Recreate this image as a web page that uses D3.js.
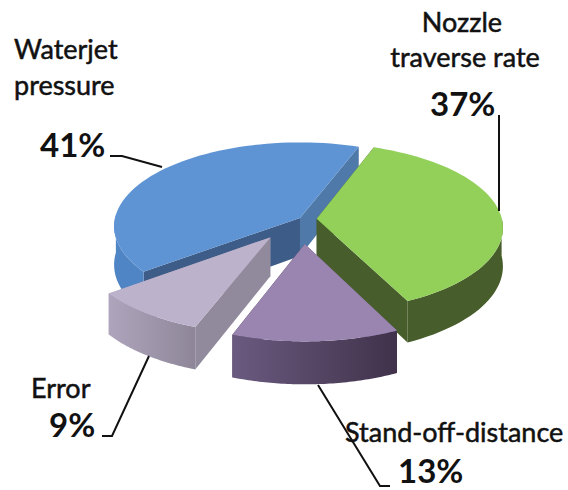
<!DOCTYPE html>
<html>
<head>
<meta charset="utf-8">
<script src="https://cdn.jsdelivr.net/npm/d3@7"></script>
<style>
html, body { margin: 0; padding: 0; background: #fff; }
svg { display: block; }
text { font-family: Lato, "Open Sans", sans-serif; fill: #111; }
</style>
</head>
<body>
<script>
var width = 568;
var height = 490;

// slices, clockwise from the cut at the top
var categories = ["Nozzle traverse rate", "Stand-off-distance", "Error", "Waterjet pressure"];
var shares = [37, 13, 9, 41];

// -- look of each slice --
var topColors = ["#92d05a", "#9a84b0", "#bdb2cb", "#5f94d4"];
var startWall = ["#475d2b", "#6a5a80", "#918a9c", "#3d5c87"];
var endWall = ["#475d2b", "#40324a", "#aea5bd", "#4e79a8"];
var outerFrom = ["#475d2b", "#6a5a80", "#aea5bd", "#4f85c4"];
var outerTo = ["#475d2b", "#40324a", "#8e8698", "#4f85c4"];
// how far each slice is pulled out, in pie radii
var explodeX = [0.09, 0.025, -0.157, 0];
var explodeY = [0.01, 0.3, 0.226, 0];

var cx = 300, cy = 218, radiusX = 185, radiusY = 84, depth = 38, perspective = 0.1;

var svg = d3.select("body").append("svg")
    .attr("width", width)
    .attr("height", height);

var pie = d3.pie()
    .sort(null)
    .startAngle(20.5 * Math.PI / 180)
    .endAngle(380.5 * Math.PI / 180);
var slices = pie(shares);

// unit pie coordinates to the tilted picture
function project(u, v, down) {
    var s = 1 + perspective * v;
    return [cx + radiusX * u * s, cy + radiusY * v * s + (down ? depth * s : 0)];
}
function rim(i, angle, down) {
    return project(explodeX[i] + Math.sin(angle), explodeY[i] - Math.cos(angle), down);
}
function apex(i, down) {
    return project(explodeX[i], explodeY[i], down);
}
var line = d3.line();
function arcAngles(d) {
    var n = 60;
    return d3.range(n + 1).map(function(k) {
        return d.startAngle + (d.endAngle - d.startAngle) * k / n;
    });
}

var defs = svg.append("defs");
slices.forEach(function(d, i) {
    var g = defs.append("linearGradient").attr("id", "outer" + i);
    g.append("stop").attr("offset", "0%").attr("stop-color", outerFrom[i]);
    g.append("stop").attr("offset", "100%").attr("stop-color", outerTo[i]);
});

// back slice first, then the ones in front
[3, 0, 1, 2].forEach(function(i) {
    var d = slices[i];
    var g = svg.append("g").attr("class", "slice");
    var angles = arcAngles(d);

    // the cut wall further back goes down first
    var walls = [
        { angle: d.startAngle, fill: startWall[i] },
        { angle: d.endAngle, fill: endWall[i] }
    ].sort(function(a, b) { return rim(i, a.angle)[1] - rim(i, b.angle)[1]; });
    walls.forEach(function(w) {
        g.append("path")
            .attr("d", line([apex(i), rim(i, w.angle), rim(i, w.angle, true), apex(i, true)]) + "Z")
            .attr("fill", w.fill);
    });

    // only the part of the rim facing the viewer
    var front = angles.filter(function(a) { return Math.cos(a) < 0.05; });
    var upper = front.map(function(a) { return rim(i, a); });
    var lower = front.map(function(a) { return rim(i, a, true); }).reverse();
    g.append("path")
        .attr("d", line(upper.concat(lower)) + "Z")
        .attr("fill", i === 0 || i === 3 ? outerFrom[i] : "url(#outer" + i + ")");

    var topFace = [apex(i)].concat(angles.map(function(a) { return rim(i, a); }));
    g.append("path")
        .attr("d", line(topFace) + "Z")
        .attr("fill", topColors[i]);
});

// -- leader lines --
var leaders = [
    [[110, 156], [122, 156], [162, 167]],
    [[499, 115], [499, 211]],
    [[102, 436], [112, 436], [149, 356]],
    [[390, 486], [380, 486], [318, 385]]
];
svg.selectAll(".leader")
    .data(leaders)
    .enter()
    .append("path")
    .attr("class", "leader")
    .attr("d", function(d) { return line(d); })
    .attr("fill", "none")
    .attr("stroke", "#111")
    .attr("stroke-width", 2);

// -- labels --
var nameLabels = [
    { text: "Waterjet", x: 14, y: 59, anchor: "start" },
    { text: "pressure", x: 14, y: 95, anchor: "start" },
    { text: "Nozzle", x: 462, y: 32, anchor: "middle" },
    { text: "traverse rate", x: 465, y: 67, anchor: "middle" },
    { text: "Error", x: 31, y: 398, anchor: "start" },
    { text: categories[1], x: 345, y: 442, anchor: "start" }
];
svg.selectAll(".name")
    .data(nameLabels)
    .enter()
    .append("text")
    .attr("class", "name")
    .attr("x", function(d) { return d.x; })
    .attr("y", function(d) { return d.y; })
    .attr("text-anchor", function(d) { return d.anchor; })
    .attr("font-size", 27)
    .attr("stroke", "#111")
    .attr("stroke-width", 0.5)
    .text(function(d) { return d.text; });

var percentLabels = [
    { i: 3, x: 40, y: 157 },
    { i: 0, x: 430, y: 116 },
    { i: 2, x: 49, y: 437 },
    { i: 1, x: 398, y: 483 }
];
svg.selectAll(".percent")
    .data(percentLabels)
    .enter()
    .append("text")
    .attr("class", "percent")
    .attr("x", function(d) { return d.x; })
    .attr("y", function(d) { return d.y; })
    .attr("font-size", 33)
    .attr("font-weight", 700)
    .text(function(d) { return shares[d.i] + "%"; });
</script>
</body>
</html>
